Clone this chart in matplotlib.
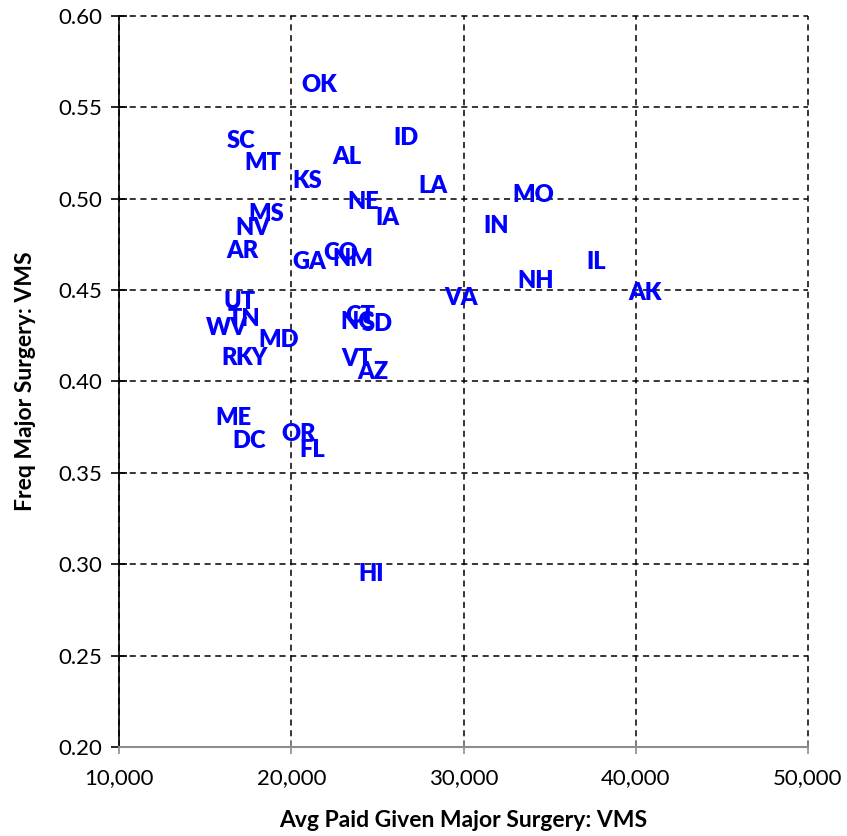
import matplotlib.pyplot as plt
from matplotlib.ticker import FuncFormatter

# state labels with avg paid (x) and frequency (y) for major surgery
states = ['OK', 'SC', 'MT', 'AL', 'ID', 'KS', 'LA', 'MO', 'NE', 'IA',
          'MS', 'NV', 'IN', 'AR', 'CO', 'GA', 'NM', 'IL', 'NH', 'AK',
          'VA', 'UT', 'TN', 'WV', 'CT', 'NC', 'SD', 'MD', 'VT', 'AZ',
          'RI', 'KY', 'ME', 'DC', 'OR', 'FL', 'HI']
avg_paid = [21611, 17083, 18360, 23237, 26662, 20914, 28229, 34034, 24164, 25557,
            18533, 17779, 31885, 17140, 22887, 21030, 23583, 37690, 34207, 40534,
            29853, 17024, 17256, 16270, 23990, 23816, 24977, 19288, 23816, 24745,
            16618, 17721, 16618, 17547, 20449, 21204, 24628]
freq = [0.562, 0.5316, 0.5196, 0.5228, 0.5332, 0.5097, 0.507, 0.502, 0.4982, 0.4895,
        0.4917, 0.484, 0.4851, 0.4714, 0.4703, 0.4654, 0.4670, 0.4654, 0.455, 0.4484,
        0.4457, 0.4435, 0.4342, 0.4293, 0.4358, 0.4326, 0.4315, 0.4227, 0.4123, 0.4052,
        0.4129, 0.4129, 0.38, 0.3674, 0.3713, 0.3625, 0.2947]

plt.rcParams['font.family'] = ['Lato', 'DejaVu Sans']

fig = plt.figure(figsize=(8.47, 8.36), dpi=100)
ax = fig.add_axes([0.1405, 0.1065, 0.8135, 0.8745])

for s, x, y in zip(states, avg_paid, freq):
    ax.text(x, y, s, color='#0000ff', fontsize=17, fontweight='heavy',
            ha='center', va='center')

ax.set_xlim(10000, 50000)
ax.set_ylim(0.20, 0.60)
ax.set_xticks(range(10000, 50001, 10000))
ax.set_yticks([0.20, 0.25, 0.30, 0.35, 0.40, 0.45, 0.50, 0.55, 0.60])
ax.xaxis.set_major_formatter(FuncFormatter(lambda v, p: '{:,.0f}'.format(v)))
ax.yaxis.set_major_formatter(FuncFormatter(lambda v, p: '{:.2f}'.format(v)))

ax.grid(True, color='black', linestyle=(0, (4, 3)), linewidth=1.1)
ax.set_axisbelow(True)
for gl in ax.get_xgridlines() + ax.get_ygridlines():
    gl.set_clip_on(False)
for side in ['top', 'right']:
    ax.spines[side].set_visible(False)
ax.spines['left'].set_color('black')
ax.spines['left'].set_linewidth(1.2)
ax.spines['bottom'].set_color('#8c8c8c')
ax.spines['bottom'].set_linewidth(1.5)
ax.tick_params(axis='y', direction='inout', length=12, width=1.2,
               labelsize=16, pad=6, colors='black')
ax.tick_params(axis='x', direction='inout', length=10, width=1.2,
               color='#8c8c8c', labelcolor='black', labelsize=16, pad=10)

ax.set_xlabel('Avg Paid Given Major Surgery: VMS', fontsize=16.5,
              fontweight='bold', labelpad=16)
ax.set_ylabel('Freq Major Surgery: VMS', fontsize=16.5,
              fontweight='bold', labelpad=16)

plt.savefig('out.png', dpi=100)
